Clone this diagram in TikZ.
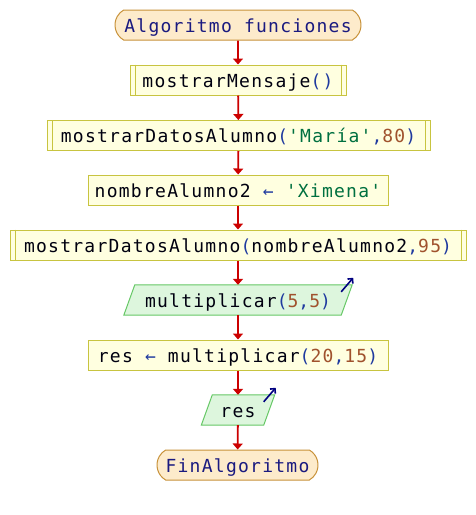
\documentclass[tikz,border=0pt]{standalone}
\usepackage{fontspec}
\setmonofont[LetterSpace=7.0]{DejaVu Sans Mono}
\usetikzlibrary{arrows.meta,shapes.misc}

% palette
\definecolor{termfill}{HTML}{FDEBCB}
\definecolor{termedge}{HTML}{C8923A}
\definecolor{procfill}{HTML}{FFFFE0}
\definecolor{procedge}{HTML}{C8C440}
\definecolor{outfill}{HTML}{DDF6DD}
\definecolor{outedge}{HTML}{66C866}
\definecolor{flowred}{HTML}{CC0000}
\definecolor{outarrow}{HTML}{000080}
\definecolor{ink}{HTML}{000010}
\definecolor{kwcol}{HTML}{1A1A80}
\definecolor{opcol}{HTML}{1F3A9F}
\definecolor{strcol}{HTML}{007040}
\definecolor{numcol}{HTML}{A0522D}

% syntax colouring
\newcommand{\psKw}[1]{\textcolor{kwcol}{#1}}
\newcommand{\psOp}[1]{\textcolor{opcol}{#1}}
\newcommand{\psStr}[1]{\textcolor{strcol}{#1}}
\newcommand{\psNum}[1]{\textcolor{numcol}{#1}}

\tikzset{
  every node/.style={font=\ttfamily\fontsize{18}{20}\selectfont, text=ink, inner sep=0pt,
    minimum height=30pt, text height=17pt, text depth=3pt},
  terminal/.style={rounded rectangle, rounded rectangle arc length=120, draw=termedge, fill=termfill, line width=1pt},
  proc/.style={rectangle, draw=procedge, fill=procfill, line width=1pt},
  outslot/.style={rectangle, draw=none},
  outshape/.style={draw=outedge, fill=outfill, line width=1pt},
  flow/.style={draw=flowred, line width=1.8pt, -{Triangle[width=10pt,length=6pt]}},
  sendout/.style={draw=outarrow, line width=1.6pt, -{Straight Barb[length=3.5pt,width=7pt]}},
  callbar/.style={draw=procedge, line width=1pt}
}

\begin{document}
\begin{tikzpicture}[x=1pt,y=-1pt]
\useasboundingbox[fill=white] (0,0) rectangle (476,515);

% start / end
\node[terminal, minimum width=246pt] (start) at (238,25) {\psKw{Algoritmo funciones}};

% subprocess calls
\node[proc, minimum width=216pt] (m1) at (238,80) {mostrarMensaje\psOp{()}};
\node[proc, minimum width=383pt] (m2) at (238.5,135.5) {mostrarDatosAlumno\psOp{(}\psStr{'María'}\psOp{,}\psNum{80}\psOp{)}};
\node[proc, minimum width=300pt] (m3) at (238,190) {nombreAlumno2 \psOp{←} \psStr{'Ximena'}};
\node[proc, minimum width=456pt] (m4) at (238,245) {mostrarDatosAlumno\psOp{(}nombreAlumno2\psOp{,}\psNum{95}\psOp{)}};

% output 1
\node[outslot, minimum width=217pt] (o1) at (238,300) {};
\path[outshape] ([xshift=-5.5pt]o1.south west) -- ([xshift=-5.5pt]o1.south east)
  -- ([xshift=5.5pt]o1.north east) -- ([xshift=5.5pt]o1.north west) -- cycle;
\node at (o1) {multiplicar\psOp{(}\psNum{5}\psOp{,}\psNum{5}\psOp{)}};

\node[proc, minimum width=300pt] (m5) at (238,355) {res \psOp{←} multiplicar\psOp{(}\psNum{20}\psOp{,}\psNum{15}\psOp{)}};

% output 2
\node[outslot, minimum width=62pt] (o2) at (238,410) {};
\path[outshape] ([xshift=-5.5pt]o2.south west) -- ([xshift=-5.5pt]o2.south east)
  -- ([xshift=5.5pt]o2.north east) -- ([xshift=5.5pt]o2.north west) -- cycle;
\node at (o2) {res};

\node[terminal, minimum width=161pt] (end) at (237.5,465) {\psKw{FinAlgoritmo}};

% inner bars of the subprocess boxes
\foreach \n in {m1,m2,m4}{
  \draw[callbar] ([xshift=5.5pt]\n.north west) -- ([xshift=5.5pt]\n.south west);
  \draw[callbar] ([xshift=-5.5pt]\n.north east) -- ([xshift=-5.5pt]\n.south east);
}

% output markers
\draw[sendout] ([shift={(-5.5,7)}]o1.north east) -- ([shift={(6.5,-7)}]o1.north east);
\draw[sendout] ([shift={(-5.5,7)}]o2.north east) -- ([shift={(6.5,-7)}]o2.north east);

% control flow
\draw[flow] (start) -- (m1);
\draw[flow] (m1) -- (m2);
\draw[flow] (m2) -- (m3);
\draw[flow] (m3) -- (m4);
\draw[flow] (m4) -- (o1);
\draw[flow] (o1) -- (m5);
\draw[flow] (m5) -- (o2);
\draw[flow] (o2) -- (end);
\end{tikzpicture}
\end{document}
